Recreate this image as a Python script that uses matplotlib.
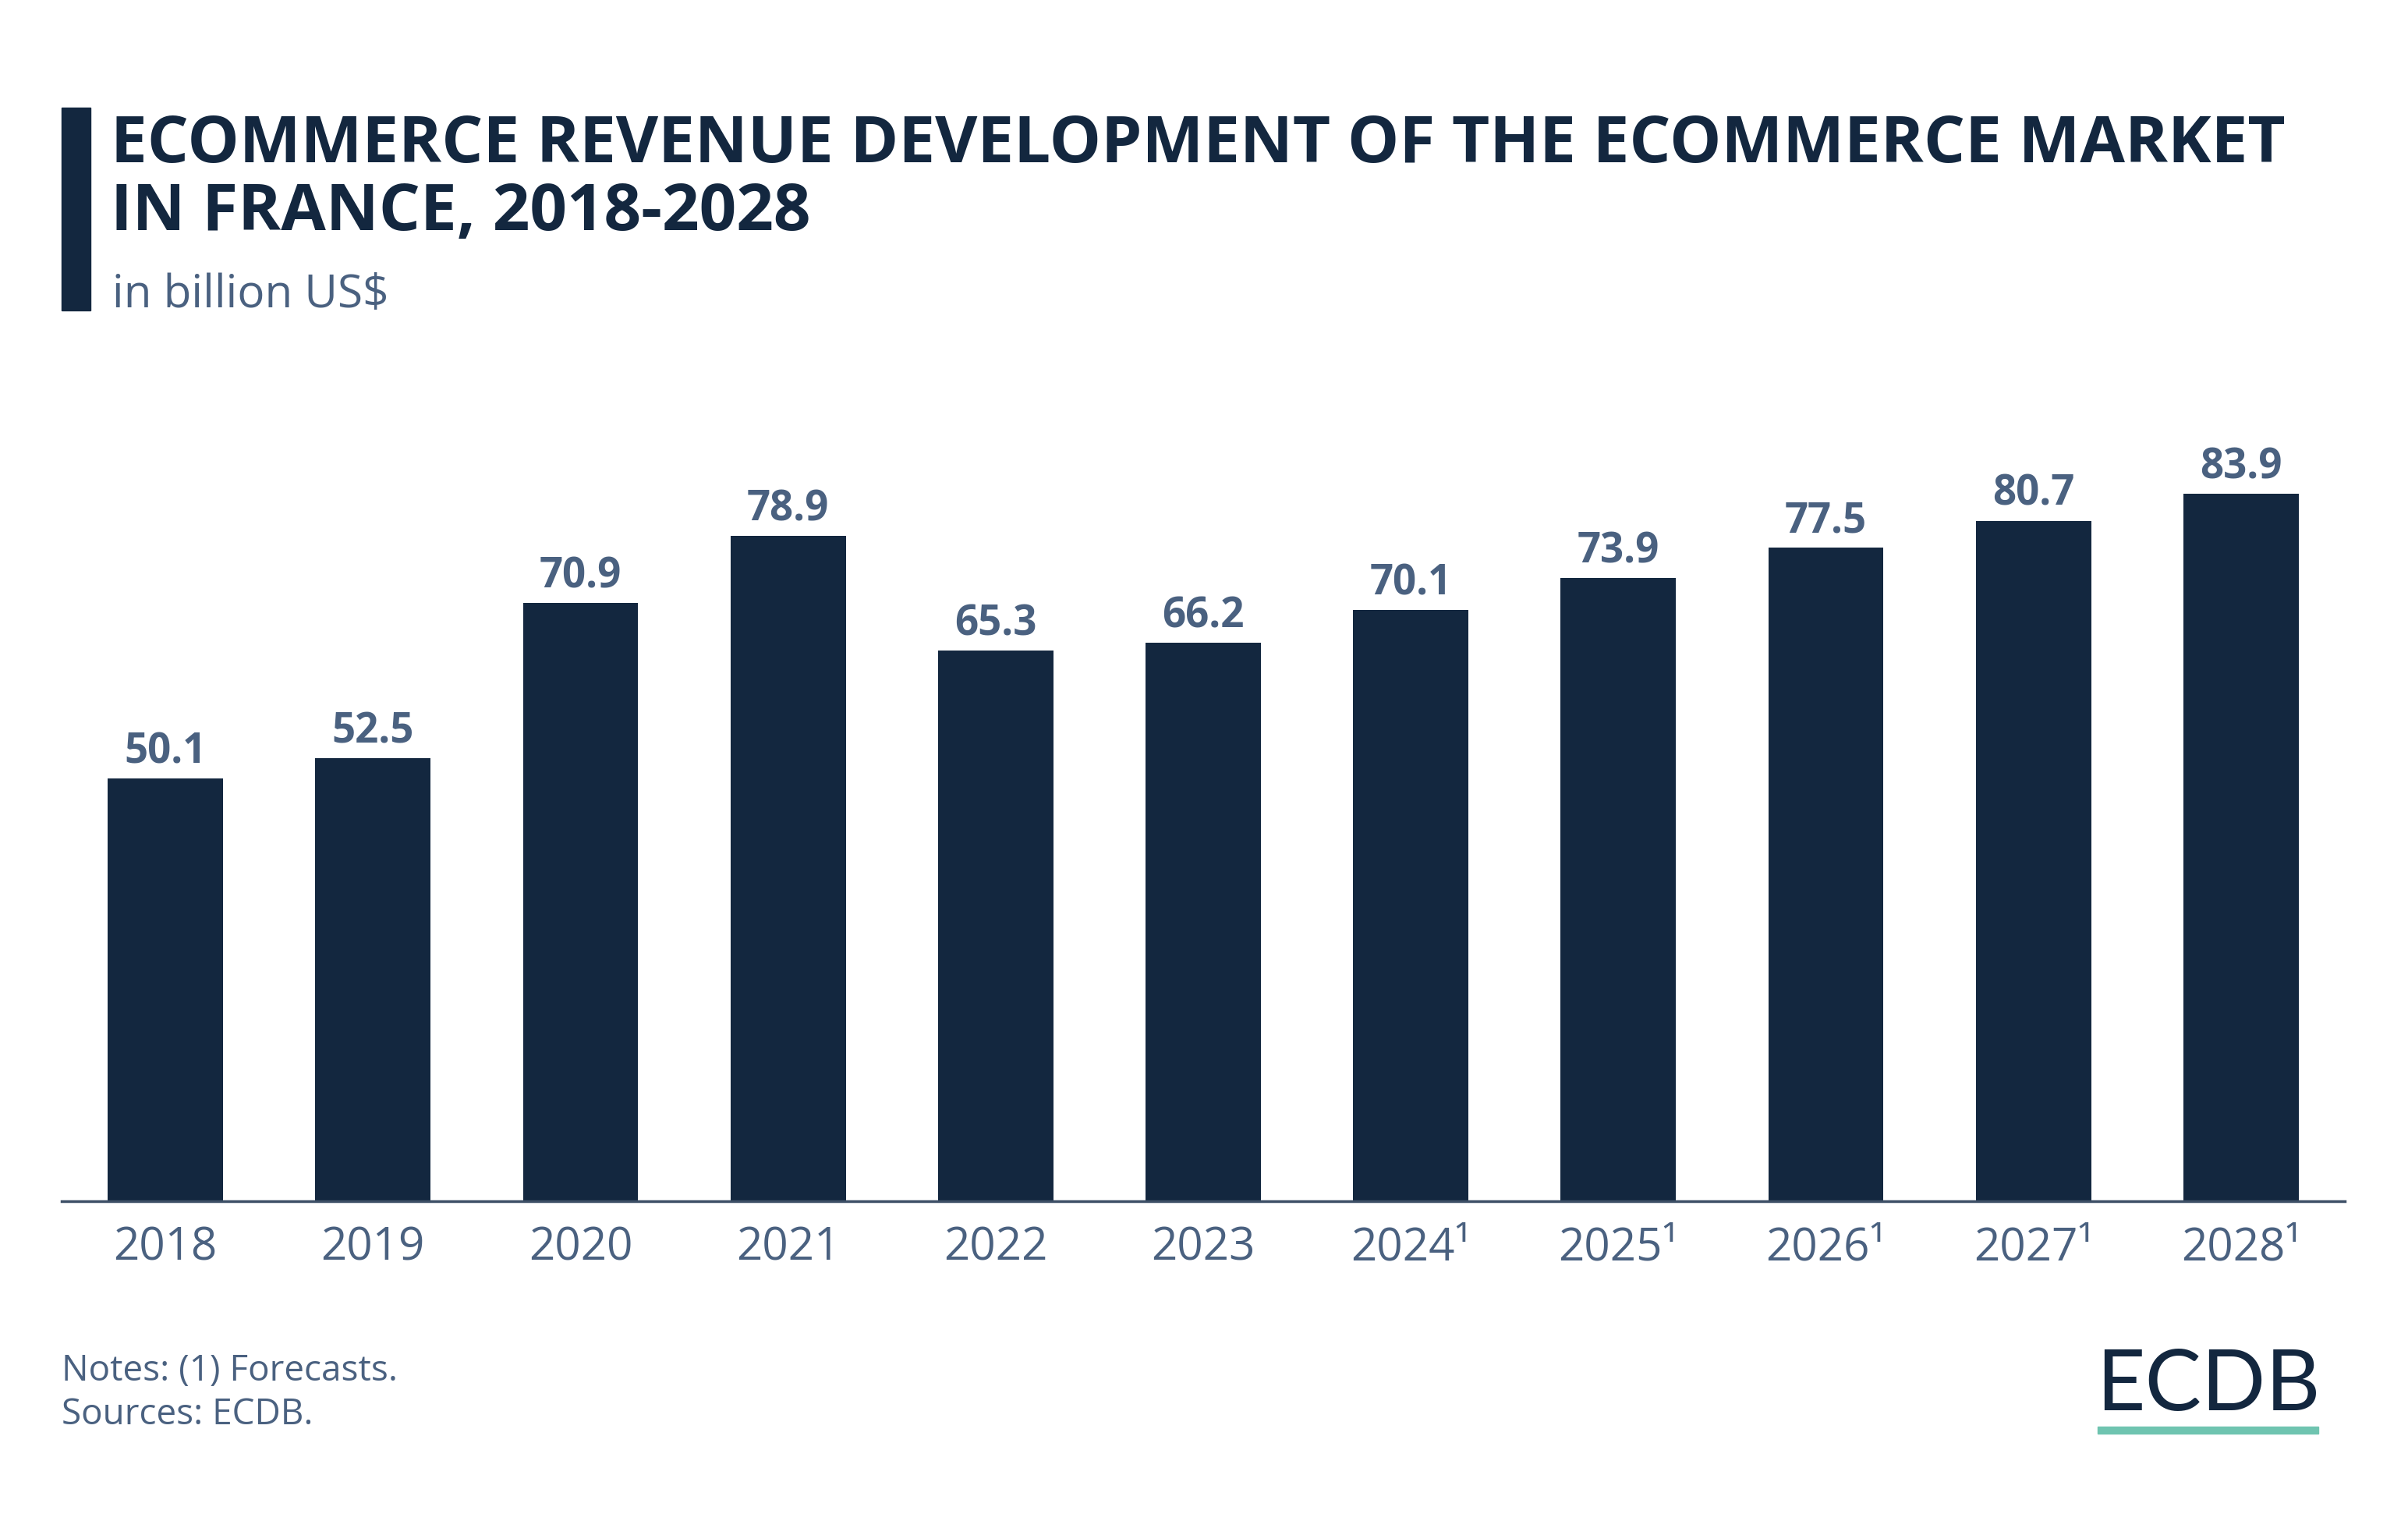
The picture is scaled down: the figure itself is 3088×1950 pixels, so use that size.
import matplotlib.pyplot as plt
from matplotlib.patches import Rectangle

years = ["2018", "2019", "2020", "2021", "2022", "2023",
         "2024¹", "2025¹", "2026¹", "2027¹", "2028¹"]
revenue = [50.1, 52.5, 70.9, 78.9, 65.3, 66.2, 70.1, 73.9, 77.5, 80.7, 83.9]

navy = "#13273f"
slate = "#4a6180"

plt.rcParams['font.family'] = ['Open Sans', 'DejaVu Sans']

W, H = 3088, 1950
fig = plt.figure(figsize=(W / 100, H / 100), dpi=100)
ax = fig.add_axes([79 / W, 1 - 1540 / H, (3007 - 79) / W, (1540 - 567) / H])

x = range(len(years))
bars = ax.bar(x, revenue, width=0.555, color=navy)
for b, v in zip(bars, revenue):
    ax.annotate(f"{v:.1f}", (b.get_x() + b.get_width() / 2, v),
                xytext=(0, 5), textcoords="offset points",
                ha="center", va="bottom", fontsize=38, fontweight="bold", color=slate)

ax.set_xlim(-0.5, len(years) - 0.5)
ax.set_ylim(0, 90)
ax.set_xticks(list(x))
ax.set_xticklabels(years, fontsize=42, color=slate)
ax.tick_params(axis="x", length=0, pad=22)
ax.set_yticks([])
for s in ["top", "right", "left"]:
    ax.spines[s].set_visible(False)
ax.spines["bottom"].set_color("#3d4f66")
ax.spines["bottom"].set_linewidth(2.5)

# title block
fig.patches.append(Rectangle((79 / W, 1 - 398 / H), 37 / W, 260 / H,
                             transform=fig.transFigure, color=navy))
fig.text(142 / W, 1 - 208 / H, "ECOMMERCE REVENUE DEVELOPMENT OF THE ECOMMERCE MARKET",
         fontsize=60.1, fontweight="bold", color=navy, va="baseline")
fig.text(142 / W, 1 - 295 / H, "IN FRANCE, 2018-2028",
         fontsize=60.1, fontweight="bold", color=navy, va="baseline")
fig.text(144 / W, 1 - 394 / H, "in billion US$", fontsize=42, color=slate, va="baseline")

# footer
fig.text(79 / W, 1 - 1770 / H, "Notes: (1) Forecasts.", fontsize=33, color=slate, va="baseline")
fig.text(79 / W, 1 - 1826 / H, "Sources: ECDB.", fontsize=33, color=slate, va="baseline")

fig.text(2688 / W, 1 - 1808 / H, "ECDB", fontsize=78, color=navy, va="baseline",
         family=["Lato", "DejaVu Sans"])
fig.patches.append(Rectangle((2690 / W, 1 - 1838 / H), 283 / W, 9 / H,
                             transform=fig.transFigure, color="#6fc4b0"))

fig.savefig("out.png", dpi=100, facecolor="white")
